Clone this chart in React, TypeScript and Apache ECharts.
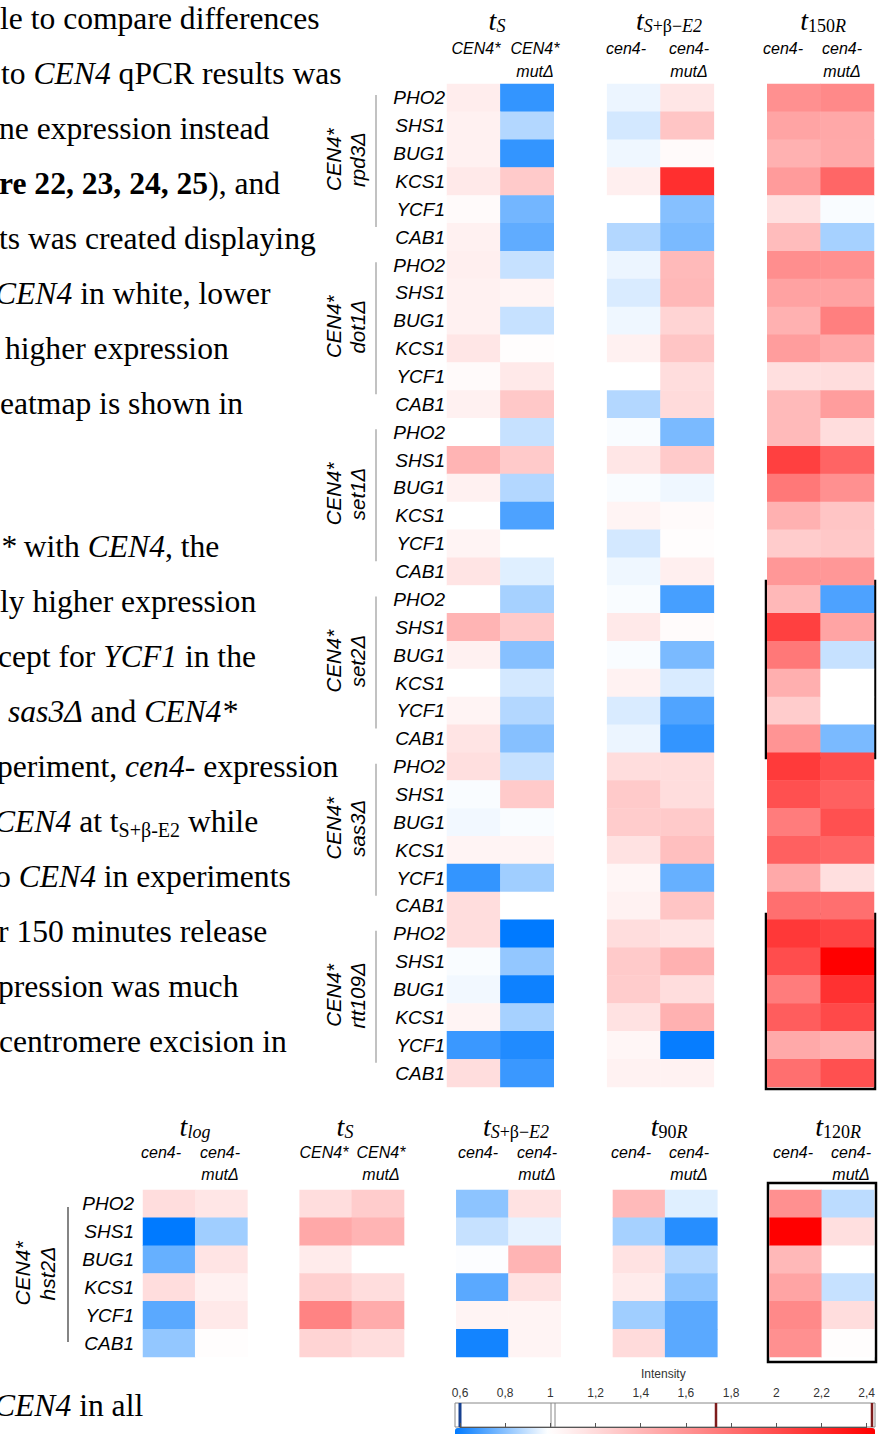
import React, { useEffect, useRef } from "react";
import * as echarts from "echarts";

// ---------- DATA ----------
const genes = ["PHO2", "SHS1", "BUG1", "KCS1", "YCF1", "CAB1"];
const mainGroups = ["rpd3Δ", "dot1Δ", "set1Δ", "set2Δ", "sas3Δ", "rtt109Δ"];
const bottomGroup = "hst2Δ";

// columns: ts CEN4*, ts CEN4* mutΔ, tS+β-E2 cen4-, tS+β-E2 cen4- mutΔ, t150R cen4-, t150R cen4- mutΔ
const rpd3Values = [
  [1.1, 0.68, 0.97, 1.14, 1.61, 1.65],
  [1.08, 0.88, 0.93, 1.32, 1.5, 1.48],
  [1.08, 0.68, 0.975, 1.03, 1.43, 1.47],
  [1.12, 1.29, 1.09, 2.14, 1.55, 1.84],
  [1.03, 0.78, 1.0, 0.81, 1.17, 0.99],
  [1.08, 0.75, 0.88, 0.79, 1.37, 0.86],
];
const dot1Values = [
  [1.09, 0.91, 0.97, 1.38, 1.62, 1.61],
  [1.08, 1.06, 0.94, 1.39, 1.51, 1.51],
  [1.08, 0.91, 0.975, 1.24, 1.43, 1.7],
  [1.14, 1.01, 1.08, 1.32, 1.54, 1.47],
  [1.03, 1.12, 1.0, 1.19, 1.18, 1.19],
  [1.08, 1.3, 0.88, 1.2, 1.38, 1.54],
];
const set1Values = [
  [1.0, 0.91, 0.99, 0.79, 1.38, 1.19],
  [1.41, 1.29, 1.14, 1.29, 2.05, 1.85],
  [1.08, 0.88, 0.99, 0.975, 1.74, 1.61],
  [1.0, 0.72, 1.06, 1.03, 1.43, 1.32],
  [1.06, 1.0, 0.93, 1.01, 1.28, 1.3],
  [1.15, 0.95, 0.975, 1.09, 1.57, 1.57],
];
const set2Values = [
  [1.0, 0.86, 0.99, 0.71, 1.39, 0.72],
  [1.41, 1.29, 1.12, 1.02, 2.05, 1.5],
  [1.08, 0.81, 0.99, 0.79, 1.74, 0.91],
  [1.0, 0.93, 1.07, 0.94, 1.44, 1.0],
  [1.06, 0.88, 0.94, 0.725, 1.28, 1.0],
  [1.15, 0.81, 0.97, 0.68, 1.59, 0.79],
];
const sas3Values = [
  [1.18, 0.91, 1.19, 1.19, 2.08, 1.98],
  [0.99, 1.29, 1.29, 1.19, 1.96, 1.87],
  [0.98, 0.99, 1.28, 1.29, 1.72, 1.96],
  [1.06, 1.06, 1.16, 1.35, 1.87, 1.84],
  [0.68, 0.85, 1.05, 0.76, 1.47, 1.18],
  [1.19, 1.0, 1.07, 1.32, 1.79, 1.79],
];
const rtt109Values = [
  [1.19, 0.6, 1.19, 1.15, 2.09, 2.03],
  [0.99, 0.83, 1.29, 1.43, 1.98, 2.4],
  [0.98, 0.62, 1.28, 1.19, 1.72, 2.13],
  [1.06, 0.86, 1.16, 1.43, 1.89, 2.0],
  [0.69, 0.65, 1.05, 0.61, 1.47, 1.43],
  [1.19, 0.69, 1.07, 1.07, 1.79, 1.96],
];
// columns: tlog cen4-, tlog mutΔ, ts CEN4*, ts mutΔ, tS+β-E2 cen4-, mutΔ, t90R cen4-, mutΔ, t120R cen4-, mutΔ
const hst2Values = [
  [1.19, 1.14, 1.19, 1.28, 0.82, 1.16, 1.38, 0.95, 1.61, 0.895],
  [0.6, 0.85, 1.48, 1.41, 0.91, 0.96, 0.86, 0.66, 2.4, 1.18],
  [0.76, 1.15, 1.11, 1.0, 0.995, 1.41, 1.16, 0.88, 1.39, 1.0],
  [1.19, 1.08, 1.26, 1.19, 0.74, 1.16, 1.11, 0.82, 1.5, 0.91],
  [0.74, 1.12, 1.68, 1.46, 1.06, 1.06, 0.85, 0.74, 1.65, 1.19],
  [0.83, 1.01, 1.24, 1.19, 0.63, 1.06, 1.2, 0.74, 1.61, 1.01],
];

const mainColumns = ["ts CEN4*", "ts CEN4* mutΔ", "gap1", "tSβE2 cen4-", "tSβE2 cen4- mutΔ", "gap2", "t150R cen4-", "t150R cen4- mutΔ"];
const mainColumnIndex = [0, 1, 3, 4, 6, 7];
const bottomColumns = ["tlog cen4-", "tlog mutΔ", "g1", "ts CEN4*", "ts mutΔ", "g2", "tSβE2 cen4-", "tSβE2 mutΔ", "g3", "t90R cen4-", "t90R mutΔ", "g4", "t120R cen4-", "t120R mutΔ"];
const bottomColumnIndex = [0, 1, 3, 4, 6, 7, 9, 10, 12, 13];

const intensityMin = 6; // x10
const intensityMax = 24;
const intensityStep = 2;
const scaleColors = ["#007aff", "#80bdff", "#ffffff", "#ffdbdb", "#ffb6b6", "#ff9292", "#ff6d6d", "#ff4949", "#ff2424", "#ff0000"];

// header texts
const mainHeaders = ["{t|t}{si|S}", "{t|t}{si|S}{su|+β−}{si|E2}", "{t|t}{su|150}{si|R}"];
const bottomHeaders = ["{t|t}{si|log}", "{t|t}{si|S}", "{t|t}{si|S}{su|+β−}{si|E2}", "{t|t}{su|90}{si|R}", "{t|t}{su|120}{si|R}"];
const mainSubTop = ["CEN4*", "CEN4*", "cen4-", "cen4-", "cen4-", "cen4-"];
const mainSubBottom = ["", "mutΔ", "", "mutΔ", "", "mutΔ"];
const bottomSubTop = ["cen4-", "cen4-", "CEN4*", "CEN4*", "cen4-", "cen4-", "cen4-", "cen4-", "cen4-", "cen4-"];
const bottomSubBottom = ["", "mutΔ", "", "mutΔ", "", "mutΔ", "", "mutΔ", "", "mutΔ"];

// body text
const para1 = [
  "le to compare differences",
  "to {i|CEN4} qPCR results was",
  "ne expression instead",
  "{b|re 22, 23, 24, 25}), and",
  "ts was created displaying",
  "{i|CEN4} in white, lower",
  "higher expression",
  "eatmap is shown in",
];
const para2 = [
  "{i|*} with {i|CEN4}, the",
  "ly higher expression",
  "cept for {i|YCF1} in the",
  "{i|sas3Δ} and {i|CEN4*}",
  "periment, {i|cen4-} expression",
  "{i|CEN4} at t{sub|S+β-E2} while",
  "o {i|CEN4} in experiments",
  "r 150 minutes release",
  "pression was much",
  "centromere excision in",
];
const para3 = ["{i|CEN4} in all"];

// ---------- LAYOUT ----------
const MAIN = { left: 447, top: 84, width: 427, height: 1003 };
const BOT = { left: 143, top: 1190, width: 731, height: 167 };
const para1X = [0, 1, -1, -1, -1, -5, 5, 0];
const para2X = [0, 0, -2, 8, -3, -6, -5, -2, -2, -1];
const mainHeaderX = [497, 669, 823];
const bottomHeaderX = [195, 345, 516, 669, 838];
const mainSubX = [476, 535, 626, 689, 783, 842];
const bottomSubX = [161, 220, 324, 381, 478, 537, 631, 689, 793, 851];

const serif = "Liberation Serif";
const sans = "Liberation Sans";
const BODY_SIZE = 31.6;

function buildOption() {
  const mainRows = mainGroups.flatMap((g) => genes.map((n) => `${g}|${n}`));
  const bottomRows = genes.map((n) => `${bottomGroup}|${n}`);
  const blocks = [rpd3Values, dot1Values, set1Values, set2Values, sas3Values, rtt109Values];
  const mainData: number[][] = [];
  blocks.forEach((block, g) =>
    block.forEach((row, r) => row.forEach((v, c) => mainData.push([mainColumnIndex[c], g * 6 + r, v])))
  );
  const bottomData: number[][] = [];
  hst2Values.forEach((row, r) => row.forEach((v, c) => bottomData.push([bottomColumnIndex[c], r, v])));

  const graphic: any[] = [];
  const bodyRich = {
    i: { fontStyle: "italic", fontFamily: serif, fontSize: BODY_SIZE, fill: "#000", lineHeight: 36 },
    b: { fontWeight: "bold", fontFamily: serif, fontSize: BODY_SIZE, fill: "#000", lineHeight: 36 },
    sub: { fontFamily: serif, fontSize: 20, fill: "#000", verticalAlign: "bottom" },
  };
  const addBody = (text: string, x: number, y: number) =>
    graphic.push({
      type: "text",
      x,
      y,
      silent: true,
      style: { text, fontFamily: serif, fontSize: BODY_SIZE, fill: "#000", align: "left", verticalAlign: "middle", lineHeight: 36, rich: bodyRich },
    });
  para1.forEach((t, i) => addBody(t, para1X[i], 18 + 55 * i));
  para2.forEach((t, i) => addBody(t, para2X[i], 546 + 55.1 * i));
  para3.forEach((t) => addBody(t, -6, 1405));

  const headRich = {
    t: { fontFamily: serif, fontStyle: "italic", fontSize: 28, fill: "#000", lineHeight: 30 },
    si: { fontFamily: serif, fontStyle: "italic", fontSize: 18, fill: "#000", verticalAlign: "bottom" },
    su: { fontFamily: serif, fontSize: 18, fill: "#000", verticalAlign: "bottom" },
  };
  const addHeader = (text: string, x: number, top: number) =>
    graphic.push({
      type: "text",
      x,
      y: top - 64,
      silent: true,
      style: { text, align: "center", verticalAlign: "middle", rich: headRich, fontSize: 28, lineHeight: 30 },
    });
  const addSub = (text: string, x: number, y: number) =>
    text &&
    graphic.push({
      type: "text",
      x,
      y,
      silent: true,
      style: { text, align: "center", verticalAlign: "middle", fontFamily: sans, fontStyle: "italic", fontSize: 16, fill: "#000" },
    });
  mainHeaders.forEach((t, i) => addHeader(t, mainHeaderX[i], MAIN.top));
  bottomHeaders.forEach((t, i) => addHeader(t, bottomHeaderX[i], BOT.top));
  mainSubTop.forEach((t, i) => addSub(t, mainSubX[i], MAIN.top - 36));
  mainSubBottom.forEach((t, i) => addSub(t, mainSubX[i], MAIN.top - 13));
  bottomSubTop.forEach((t, i) => addSub(t, bottomSubX[i], BOT.top - 38));
  bottomSubBottom.forEach((t, i) => addSub(t, bottomSubX[i], BOT.top - 16));

  // group labels and bracket lines
  const rowH = MAIN.height / 36;
  mainGroups.forEach((g, i) => {
    const top = MAIN.top + i * 6 * rowH;
    graphic.push({
      type: "text",
      x: 345,
      y: top + 3 * rowH - 8,
      rotation: Math.PI / 2,
      silent: true,
      style: { text: `CEN4*\n${g}`, align: "center", verticalAlign: "middle", fontFamily: sans, fontStyle: "italic", fontSize: 20.5, lineHeight: 24, fill: "#000" },
    });
    graphic.push({
      type: "line",
      silent: true,
      shape: { x1: 376, y1: top + 11, x2: 376, y2: top + 143 },
      style: { stroke: "#a8a8a8", lineWidth: 1.4 },
    });
  });
  graphic.push({
    type: "text",
    x: 35,
    y: BOT.top + BOT.height / 2,
    rotation: Math.PI / 2,
    silent: true,
    style: { text: `CEN4*\n${bottomGroup}`, align: "center", verticalAlign: "middle", fontFamily: sans, fontStyle: "italic", fontSize: 21, lineHeight: 25, fill: "#000" },
  });
  graphic.push({
    type: "line",
    silent: true,
    shape: { x1: 68, y1: BOT.top + 17, x2: 68, y2: BOT.top + 152 },
    style: { stroke: "#333", lineWidth: 1.2 },
  });

  // highlight boxes
  const box = (x: number, y: number, w: number, h: number) =>
    graphic.push({ type: "rect", silent: true, shape: { x, y, width: w, height: h }, style: { fill: "none", stroke: "#000", lineWidth: 2.5 } });
  box(766, 581, 109, 177);
  box(766, 914, 109, 175);
  box(768, 1183, 108, 179);

  // colour bar frame
  graphic.push({ type: "rect", silent: true, shape: { x: 455, y: 1403, width: 420, height: 24 }, style: { fill: "none", stroke: "#888", lineWidth: 1 } });
  const vline = (x: number, color: string, w: number) =>
    graphic.push({ type: "line", silent: true, shape: { x1: x, y1: 1403, x2: x, y2: 1427 }, style: { stroke: color, lineWidth: w } });
  vline(460, "#17408f", 3);
  vline(551, "#888", 1);
  vline(555, "#888", 1);
  vline(716, "#7d1c1c", 2.5);
  vline(872, "#7d1c1c", 2.5);

  const geneLabel = (margin: number) => ({
    interval: 0,
    formatter: (v: string) => v.split("|")[1],
    fontSize: 19,
    fontStyle: "italic",
    fontFamily: sans,
    color: "#000",
    margin,
  });

  return {
    animation: false,
    backgroundColor: "#ffffff",
    grid: [
      { ...MAIN },
      { ...BOT },
      { left: 460, top: 1403, width: 413, height: 24 },
    ],
    xAxis: [
      { type: "category", gridIndex: 0, data: mainColumns, show: false },
      { type: "category", gridIndex: 1, data: bottomColumns, show: false },
      {
        type: "value",
        gridIndex: 2,
        min: intensityMin,
        max: intensityMax,
        interval: intensityStep,
        position: "top",
        name: "Intensity",
        nameLocation: "middle",
        nameGap: 23,
        nameTextStyle: { fontSize: 12, color: "#333", fontFamily: sans },
        axisLine: { show: true, lineStyle: { color: "#555" } },
        axisTick: { show: true, length: 4, lineStyle: { color: "#555" } },
        axisLabel: { fontSize: 12, color: "#333", fontFamily: sans, margin: 4, formatter: (v: number) => String(v / 10).replace(".", ",") },
        splitLine: { show: false },
      },
    ],
    yAxis: [
      { type: "category", gridIndex: 0, data: mainRows, inverse: true, axisLine: { show: false }, axisTick: { show: false }, axisLabel: geneLabel(2) },
      { type: "category", gridIndex: 1, data: bottomRows, inverse: true, axisLine: { show: false }, axisTick: { show: false }, axisLabel: geneLabel(9) },
      { type: "value", gridIndex: 2, show: false },
    ],
    visualMap: [
      {
        type: "continuous",
        min: 0.6,
        max: 2.4,
        seriesIndex: [0, 1],
        inRange: { color: scaleColors },
        orient: "horizontal",
        left: 455,
        top: 1428,
        itemWidth: 10,
        itemHeight: 420,
        calculable: false,
        hoverLink: false,
        padding: 0,
        show: true,
      },
    ],
    series: [
      { type: "heatmap", xAxisIndex: 0, yAxisIndex: 0, data: mainData, emphasis: { disabled: true }, itemStyle: { borderWidth: 0 } },
      { type: "heatmap", xAxisIndex: 1, yAxisIndex: 1, data: bottomData, emphasis: { disabled: true }, itemStyle: { borderWidth: 0 } },
    ],
    graphic,
  };
}

export default function App() {
  const ref = useRef<HTMLDivElement>(null);
  useEffect(() => {
    document.body.style.margin = "0";
    const chart = echarts.init(ref.current!, undefined, { renderer: "svg" });
    chart.setOption(buildOption() as any);
    return () => chart.dispose();
  }, []);
  return <div ref={ref} style={{ width: 878, height: 1434 }} />;
}
